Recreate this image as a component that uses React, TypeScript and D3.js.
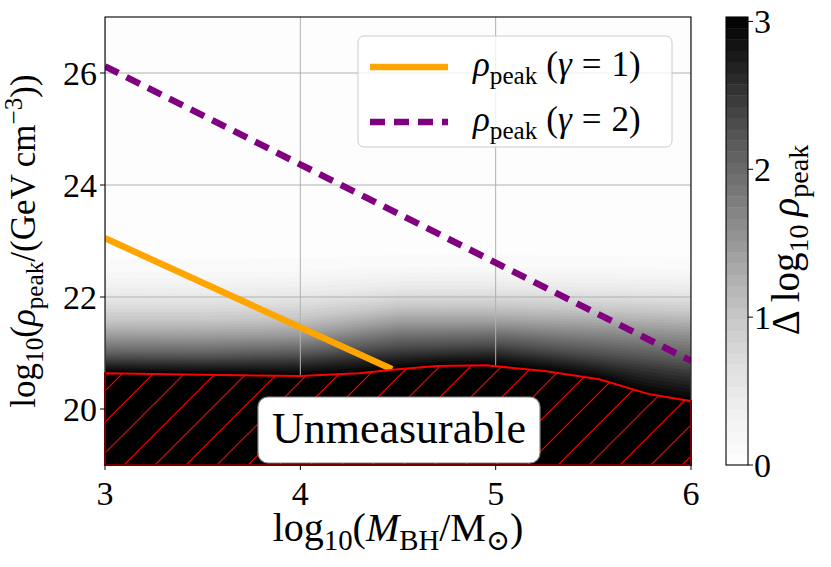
import React, { useEffect, useRef } from 'react';
import * as d3 from 'd3';

// red edge of the unmeasurable region
const boundaryMass = [3.0, 3.5, 4.0, 4.3, 4.5, 4.7, 4.95, 5.25, 5.53, 5.78, 6.0];
const boundaryRho = [20.64, 20.61, 20.59, 20.64, 20.71, 20.77, 20.78, 20.68, 20.53, 20.27, 20.14];

// rho_peak lines
const gamma1Mass = [3.0, 4.47];
const gamma1Rho = [23.05, 20.71];
const gamma2Mass = [3.0, 6.0];
const gamma2Rho = [26.12, 20.86];

// shading: log10 rho where Delta log10 rho_peak reaches each level, per sample mass
const shadeMass = [3.0, 3.5, 4.0, 4.5, 5.0, 5.5, 6.0];
const shadeLevels = [2.5, 2.0, 1.5, 1.0, 0.5, 0.25, 0.1, 0.0];
const shadeRho = [
    [20.84, 20.83, 20.85, 21.00, 21.05, 20.85, 20.62],
    [21.04, 21.03, 21.07, 21.27, 21.30, 21.15, 21.00],
    [21.28, 21.27, 21.30, 21.52, 21.52, 21.45, 21.37],
    [21.58, 21.58, 21.62, 21.82, 21.82, 21.78, 21.72],
    [22.00, 22.00, 22.03, 22.15, 22.15, 22.12, 22.09],
    [22.30, 22.30, 22.32, 22.40, 22.40, 22.38, 22.35],
    [22.50, 22.50, 22.52, 22.60, 22.60, 22.58, 22.55],
    [23.20, 23.20, 23.20, 23.20, 23.20, 23.20, 23.20],
];

const xTicks = [3, 4, 5, 6];
const yTicks = [20, 22, 24, 26];
const cbarTicks = [0, 1, 2, 3];
const cbarMax = 3.03;
const nBands = 40;

type Part = { t: string; it?: boolean; sub?: boolean; sup?: boolean; dx?: number };

const FONT = '"Liberation Serif", "DejaVu Serif", serif';

function rich(sel: any, parts: Part[], size: number) {
    let shift = 0;
    parts.forEach(p => {
        const target = p.sub ? 0.22 * size : p.sup ? -0.36 * size : 0;
        const ts = sel.append('tspan').attr('dy', target - shift).text(p.t);
        if (p.dx) ts.attr('dx', p.dx);
        if (p.sub || p.sup) ts.attr('font-size', size * 0.72);
        if (p.it) ts.attr('font-style', 'italic');
        shift = target;
    });
}

function interp(xs: number[], ys: number[], x: number) {
    let i = 0;
    while (i < xs.length - 2 && x > xs[i + 1]) i++;
    const t = (x - xs[i]) / (xs[i + 1] - xs[i]);
    return ys[i] + (ys[i + 1] - ys[i]) * t;
}

function field(m: number, r: number) {
    const b = interp(boundaryMass, boundaryRho, m);
    if (r <= b) return cbarMax;
    let prevY = b;
    let prevV = cbarMax;
    for (let k = 0; k < shadeLevels.length; k++) {
        const ly = interp(shadeMass, shadeRho[k], m);
        const lv = shadeLevels[k];
        if (r <= ly) return prevV + (lv - prevV) * (r - prevY) / (ly - prevY);
        prevY = ly;
        prevV = lv;
    }
    return 0;
}

const App: React.FC = () => {
    const ref = useRef<SVGSVGElement>(null);

    useEffect(() => {
        const svg = d3.select(ref.current);
        svg.selectAll('*').remove();

        const left = 105, right = 691, top = 17, bottom = 465;
        const x = d3.scaleLinear().domain([3, 6]).range([left, right]);
        const y = d3.scaleLinear().domain([19, 27]).range([bottom, top]);

        const defs = svg.append('defs');
        defs.append('clipPath').attr('id', 'plotClip')
            .append('rect').attr('x', left).attr('y', top)
            .attr('width', right - left).attr('height', bottom - top);
        const hs = 31;
        const pat = defs.append('pattern').attr('id', 'hatch')
            .attr('patternUnits', 'userSpaceOnUse')
            .attr('width', hs).attr('height', hs);
        pat.append('rect').attr('width', hs).attr('height', hs).attr('fill', 'black');
        pat.append('path')
            .attr('d', `M-2,2 L2,-2 M0,${hs} L${hs},0 M${hs - 2},${hs + 2} L${hs + 2},${hs - 2}`)
            .attr('stroke', 'red').attr('stroke-width', 1.2);

        const thresholds = d3.range(nBands).map(i => (i * cbarMax) / nBands);
        const bandColor = (i: number) => d3.interpolateGreys(((i + 0.5) / nBands));

        // filled contours
        const nx = 300, ny = 224;
        const values = new Array(nx * ny);
        for (let j = 0; j < ny; j++) {
            const r = y.invert(top + ((j + 0.5) / ny) * (bottom - top));
            for (let i = 0; i < nx; i++) {
                const m = x.invert(left + ((i + 0.5) / nx) * (right - left));
                values[j * nx + i] = field(m, r);
            }
        }
        const contours = d3.contours().size([nx, ny]).thresholds(thresholds.slice(1))(values);
        const plot = svg.append('g').attr('clip-path', 'url(#plotClip)');
        plot.append('rect').attr('x', left).attr('y', top)
            .attr('width', right - left).attr('height', bottom - top)
            .attr('fill', bandColor(0));
        const cg = plot.append('g')
            .attr('transform', `translate(${left},${top}) scale(${(right - left) / nx},${(bottom - top) / ny})`);
        const gp = d3.geoPath();
        cg.selectAll('path').data(contours).enter().append('path')
            .attr('d', d => gp(d as any) as string)
            .attr('fill', (_, i) => bandColor(i + 1))
            .attr('stroke', (_, i) => bandColor(i + 1))
            .attr('stroke-width', 0.3);

        // grid
        const grid = plot.append('g').attr('stroke', '#b0b0b0').attr('stroke-width', 1);
        xTicks.forEach(t => grid.append('line').attr('x1', x(t)).attr('x2', x(t)).attr('y1', top).attr('y2', bottom));
        yTicks.forEach(t => grid.append('line').attr('y1', y(t)).attr('y2', y(t)).attr('x1', left).attr('x2', right));

        // unmeasurable region
        const region = d3.area<number>()
            .x((_, i) => x(boundaryMass[i]))
            .y0(() => y(19))
            .y1((d) => y(d));
        svg.append('path').datum(boundaryRho)
            .attr('d', region as any)
            .attr('fill', 'url(#hatch)')
            .attr('stroke', 'red').attr('stroke-width', 2);

        // lines
        const line = d3.line<number[]>().x(d => x(d[0])).y(d => y(d[1]));
        const g1 = gamma1Mass.map((m, i) => [m, gamma1Rho[i]]);
        const g2 = gamma2Mass.map((m, i) => [m, gamma2Rho[i]]);
        plot.append('path').attr('d', line(g1)).attr('fill', 'none')
            .attr('stroke', 'orange').attr('stroke-width', 6.5);
        plot.append('path').attr('d', line(g2)).attr('fill', 'none')
            .attr('stroke', 'purple').attr('stroke-width', 6.5).attr('stroke-dasharray', '15,9');

        // spines
        svg.append('rect').attr('x', left).attr('y', top)
            .attr('width', right - left).attr('height', bottom - top)
            .attr('fill', 'none').attr('stroke', 'black').attr('stroke-width', 1.1);

        // ticks
        const tk = svg.append('g').attr('font-family', FONT).attr('font-size', 34).attr('fill', 'black');
        xTicks.forEach(t => {
            tk.append('line').attr('x1', x(t)).attr('x2', x(t)).attr('y1', bottom).attr('y2', bottom + 5).attr('stroke', 'black');
            tk.append('text').attr('x', x(t)).attr('y', 505).attr('text-anchor', 'middle').text(t);
        });
        yTicks.forEach(t => {
            tk.append('line').attr('x1', left - 5).attr('x2', left).attr('y1', y(t)).attr('y2', y(t)).attr('stroke', 'black');
            tk.append('text').attr('x', 97).attr('y', y(t)).attr('dy', '0.35em').attr('text-anchor', 'end').text(t);
        });

        // axis labels
        const yl = svg.append('text').attr('font-family', FONT).attr('font-size', 35)
            .attr('text-anchor', 'middle').attr('transform', 'translate(35,241) rotate(-90)');
        rich(yl, [
            { t: 'log' }, { t: '10', sub: true }, { t: '(' }, { t: 'ρ', it: true }, { t: 'peak', sub: true },
            { t: '/(GeV\u2009cm' }, { t: '−3', sup: true }, { t: '))' },
        ], 35);
        const xl = svg.append('text').attr('font-family', FONT).attr('font-size', 40)
            .attr('text-anchor', 'middle').attr('x', 398).attr('y', 541);
        rich(xl, [
            { t: 'log' }, { t: '10', sub: true }, { t: '(' }, { t: 'M', it: true }, { t: 'BH', sub: true },
            { t: '/M' }, { t: '⊙', sub: true }, { t: ')' },
        ], 40);

        // legend
        const lg = svg.append('g');
        lg.append('rect').attr('x', 358).attr('y', 36).attr('width', 314).attr('height', 111).attr('rx', 6)
            .attr('fill', 'white').attr('fill-opacity', 0.8).attr('stroke', '#cccccc');
        lg.append('line').attr('x1', 370).attr('x2', 448).attr('y1', 67).attr('y2', 67)
            .attr('stroke', 'orange').attr('stroke-width', 6.5);
        lg.append('line').attr('x1', 370).attr('x2', 448).attr('y1', 122).attr('y2', 122)
            .attr('stroke', 'purple').attr('stroke-width', 6.5).attr('stroke-dasharray', '15,9');
        [['1', 76], ['2', 131]].forEach(([g, yy]) => {
            const t = lg.append('text').attr('font-family', FONT).attr('font-size', 35)
                .attr('x', 473).attr('y', yy as number);
            rich(t, [
                { t: 'ρ', it: true }, { t: 'peak', sub: true }, { t: '(', dx: 9 }, { t: 'γ', it: true },
                { t: '=', dx: 10 }, { t: `${g})`, dx: 10 },
            ], 35);
        });

        // unmeasurable label
        svg.append('rect').attr('x', 258).attr('y', 397).attr('width', 282).attr('height', 66).attr('rx', 10)
            .attr('fill', 'white').attr('stroke', '#888').attr('stroke-width', 1.2);
        svg.append('text').attr('font-family', FONT).attr('font-size', 44)
            .attr('x', 399).attr('y', 443).attr('text-anchor', 'middle').text('Unmeasurable');

        // colorbar
        const cx0 = 726, cx1 = 748;
        const cy = d3.scaleLinear().domain([0, cbarMax]).range([bottom, top]);
        const cb = svg.append('g');
        thresholds.forEach((t, i) => {
            const t1 = i + 1 < nBands ? thresholds[i + 1] : cbarMax;
            cb.append('rect').attr('x', cx0).attr('width', cx1 - cx0)
                .attr('y', cy(t1)).attr('height', cy(t) - cy(t1) + 0.4)
                .attr('fill', bandColor(i));
        });
        cb.append('rect').attr('x', cx0).attr('y', top).attr('width', cx1 - cx0).attr('height', bottom - top)
            .attr('fill', 'none').attr('stroke', 'black').attr('stroke-width', 1.1);
        cbarTicks.forEach(t => {
            cb.append('line').attr('x1', cx1).attr('x2', cx1 + 5).attr('y1', cy(t)).attr('y2', cy(t)).attr('stroke', 'black');
            cb.append('text').attr('font-family', FONT).attr('font-size', 34)
                .attr('x', cx1 + 6).attr('y', cy(t)).attr('dy', '0.35em').text(t);
        });
        const cl = svg.append('text').attr('font-family', FONT).attr('font-size', 39)
            .attr('text-anchor', 'middle').attr('transform', 'translate(799,240) rotate(-90)');
        rich(cl, [{ t: 'Δ\u2009log' }, { t: '10', sub: true }, { t: '\u2009' }, { t: 'ρ', it: true }, { t: 'peak', sub: true }], 39);
    }, []);

    return (
        <svg ref={ref} width={831} height={567}
            style={{ position: 'absolute', left: 0, top: 0, background: 'white' }} />
    );
};

export default App;
